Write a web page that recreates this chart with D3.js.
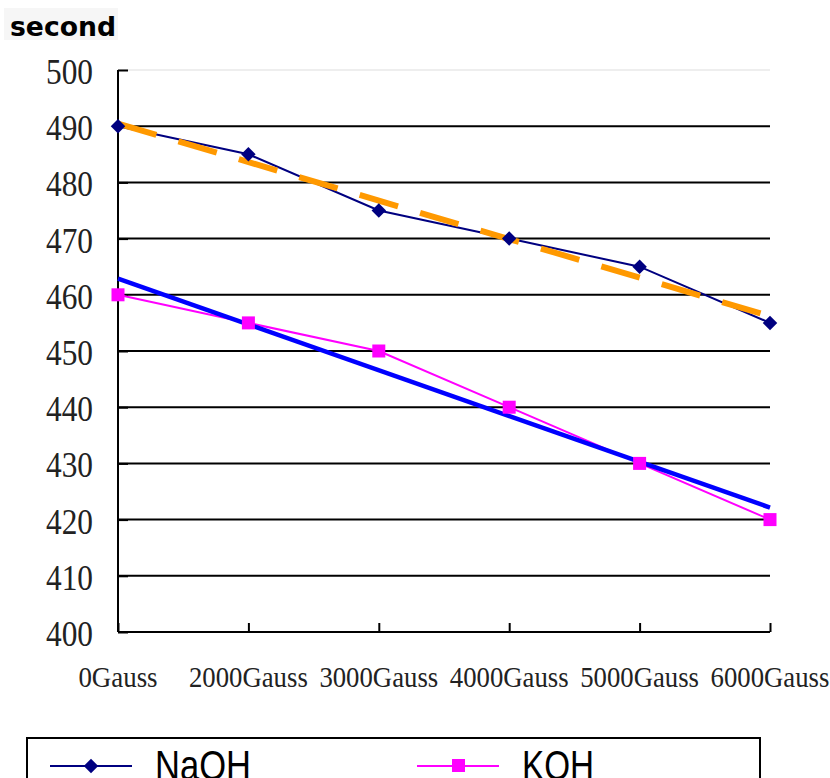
<!DOCTYPE html>
<html>
<head>
<meta charset="utf-8">
<script src="https://cdn.jsdelivr.net/npm/d3@7"></script>
<style>
  body { margin: 0; background: #fff; }
  svg { display: block; }
</style>
</head>
<body>
<svg id="chart" width="830" height="778"></svg>
<script>
var categories = ["0Gauss", "2000Gauss", "3000Gauss", "4000Gauss", "5000Gauss", "6000Gauss"];
var naoh = [490, 485, 475, 470, 465, 455];
var koh = [460, 455, 450, 440, 430, 420];
var yTicks = [400, 410, 420, 430, 440, 450, 460, 470, 480, 490, 500];

var svg = d3.select("#chart");

var plotLeft = 118, plotRight = 770, plotTop = 70, plotBottom = 632;

var x = d3.scalePoint().domain(categories).range([plotLeft, plotRight]).padding(0);
var y = d3.scaleLinear().domain([400, 500]).range([plotBottom, plotTop]);

// linear trend (least squares over category index), like the spreadsheet trendline
var trend = function(vals) {
  var n = vals.length;
  var mx = d3.mean(vals, function(d, i) { return i; });
  var my = d3.mean(vals);
  var sxy = d3.sum(vals, function(d, i) { return (i - mx) * (d - my); });
  var sxx = d3.sum(vals, function(d, i) { return (i - mx) * (i - mx); });
  var b = sxy / sxx;
  return [0, n - 1].map(function(i) { return { c: categories[i], v: my + b * (i - mx) }; });
};

// "second" label
svg.append("rect").attr("x", 4).attr("y", 8).attr("width", 114).attr("height", 32).attr("fill", "#f6f6f6");
svg.append("text")
  .attr("x", 10).attr("y", 36)
  .style("font-family", "'DejaVu Sans', sans-serif")
  .style("font-weight", "bold")
  .style("font-size", "26px")
  .attr("textLength", 106).attr("lengthAdjust", "spacingAndGlyphs")
  .text("second");

// gridlines
svg.append("g").selectAll("line").data(yTicks.filter(function(d) { return d > 400; }))
  .enter().append("line")
  .attr("x1", plotLeft).attr("x2", plotRight)
  .attr("y1", function(d) { return y(d); }).attr("y2", function(d) { return y(d); })
  .attr("stroke", function(d) { return d === 500 ? "#eeeeee" : "#000"; })
  .attr("stroke-width", 2);

// y axis
var yAxis = svg.append("g")
  .attr("transform", "translate(" + plotLeft + ",0)")
  .call(d3.axisRight(y).tickValues(yTicks).tickSize(10).tickFormat(""));
yAxis.select(".domain").attr("stroke", "#000").attr("stroke-width", 2).attr("d", "M0," + plotTop + "V" + plotBottom);
yAxis.selectAll(".tick line").attr("stroke", "#000").attr("stroke-width", 2);

svg.append("g").selectAll("text").data(yTicks).enter().append("text")
  .attr("x", 93).attr("y", function(d) { return y(d) + 14; })
  .attr("text-anchor", "end")
  .style("font-family", "'Liberation Serif', 'Times New Roman', serif")
  .style("font-size", "35px")
  .attr("textLength", 47).attr("lengthAdjust", "spacingAndGlyphs")
  .attr("fill", "#222")
  .text(function(d) { return d; });

// x axis
var xAxis = svg.append("g")
  .attr("transform", "translate(0," + plotBottom + ")")
  .call(d3.axisTop(x).tickSize(9).tickFormat(""));
xAxis.select(".domain").attr("stroke", "#000").attr("stroke-width", 2).attr("d", "M" + plotLeft + ",0H" + plotRight);
xAxis.selectAll(".tick line").attr("stroke", "#000").attr("stroke-width", 2);

svg.append("g").selectAll("text").data(categories).enter().append("text")
  .attr("x", function(d) { return x(d); }).attr("y", 687)
  .attr("text-anchor", "middle")
  .style("font-family", "'Liberation Serif', 'Times New Roman', serif")
  .style("font-size", "30px")
  .attr("textLength", function(d) { return d.length * 13.2; })
  .attr("lengthAdjust", "spacingAndGlyphs")
  .attr("fill", "#222")
  .text(function(d) { return d; });

var line = d3.line()
  .x(function(d) { return x(d.c); })
  .y(function(d) { return y(d.v); });

var toPts = function(vals) { return vals.map(function(v, i) { return { c: categories[i], v: v }; }); };

// data lines
svg.append("path").datum(toPts(naoh)).attr("d", line)
  .attr("fill", "none").attr("stroke", "#000080").attr("stroke-width", 2);
svg.append("path").datum(toPts(koh)).attr("d", line)
  .attr("fill", "none").attr("stroke", "#ff00ff").attr("stroke-width", 2);

// trendlines
svg.append("path").datum(trend(koh)).attr("d", line)
  .attr("fill", "none").attr("stroke", "#0000ff").attr("stroke-width", 4.5);
svg.append("path").datum(trend(naoh)).attr("d", line)
  .attr("fill", "none").attr("stroke", "#ff9900").attr("stroke-width", 6)
  .attr("stroke-dasharray", "40,23");

// markers
var diamond = d3.symbol().type(d3.symbolSquare).size(105);
svg.append("g").selectAll("path").data(toPts(naoh)).enter().append("path")
  .attr("d", diamond)
  .attr("transform", function(d) { return "translate(" + x(d.c) + "," + y(d.v) + ") rotate(45)"; })
  .attr("fill", "#000080");

svg.append("g").selectAll("rect").data(toPts(koh)).enter().append("rect")
  .attr("x", function(d) { return x(d.c) - 6.5; })
  .attr("y", function(d) { return y(d.v) - 6.5; })
  .attr("width", 13).attr("height", 13)
  .attr("fill", "#ff00ff");

// legend
var legend = svg.append("g");
legend.append("rect")
  .attr("x", 27).attr("y", 738).attr("width", 733).attr("height", 60)
  .attr("fill", "#fff").attr("stroke", "#000").attr("stroke-width", 2);

var legendItems = [
  { name: "NaOH", color: "#000080", x0: 50, mark: "diamond" },
  { name: "KOH", color: "#ff00ff", x0: 417, mark: "square" }
];
var li = legend.selectAll("g.item").data(legendItems).enter().append("g").attr("class", "item");
li.append("line")
  .attr("x1", function(d) { return d.x0; }).attr("x2", function(d) { return d.x0 + 82; })
  .attr("y1", 766).attr("y2", 766)
  .attr("stroke", function(d) { return d.color; }).attr("stroke-width", 2);
li.filter(function(d) { return d.mark === "diamond"; }).append("path")
  .attr("d", diamond)
  .attr("transform", function(d) { return "translate(" + (d.x0 + 41) + ",766) rotate(45)"; })
  .attr("fill", function(d) { return d.color; });
li.filter(function(d) { return d.mark === "square"; }).append("rect")
  .attr("x", function(d) { return d.x0 + 35; }).attr("y", 759).attr("width", 13).attr("height", 13)
  .attr("fill", function(d) { return d.color; });
li.append("text")
  .attr("x", function(d) { return d.x0 + 105; }).attr("y", 780)
  .style("font-family", "'Liberation Sans', Arial, sans-serif")
  .style("font-size", "42px")
  .attr("textLength", function(d) { return d.name === "NaOH" ? 96 : 72; })
  .attr("lengthAdjust", "spacingAndGlyphs")
  .text(function(d) { return d.name; });
</script>
</body>
</html>
